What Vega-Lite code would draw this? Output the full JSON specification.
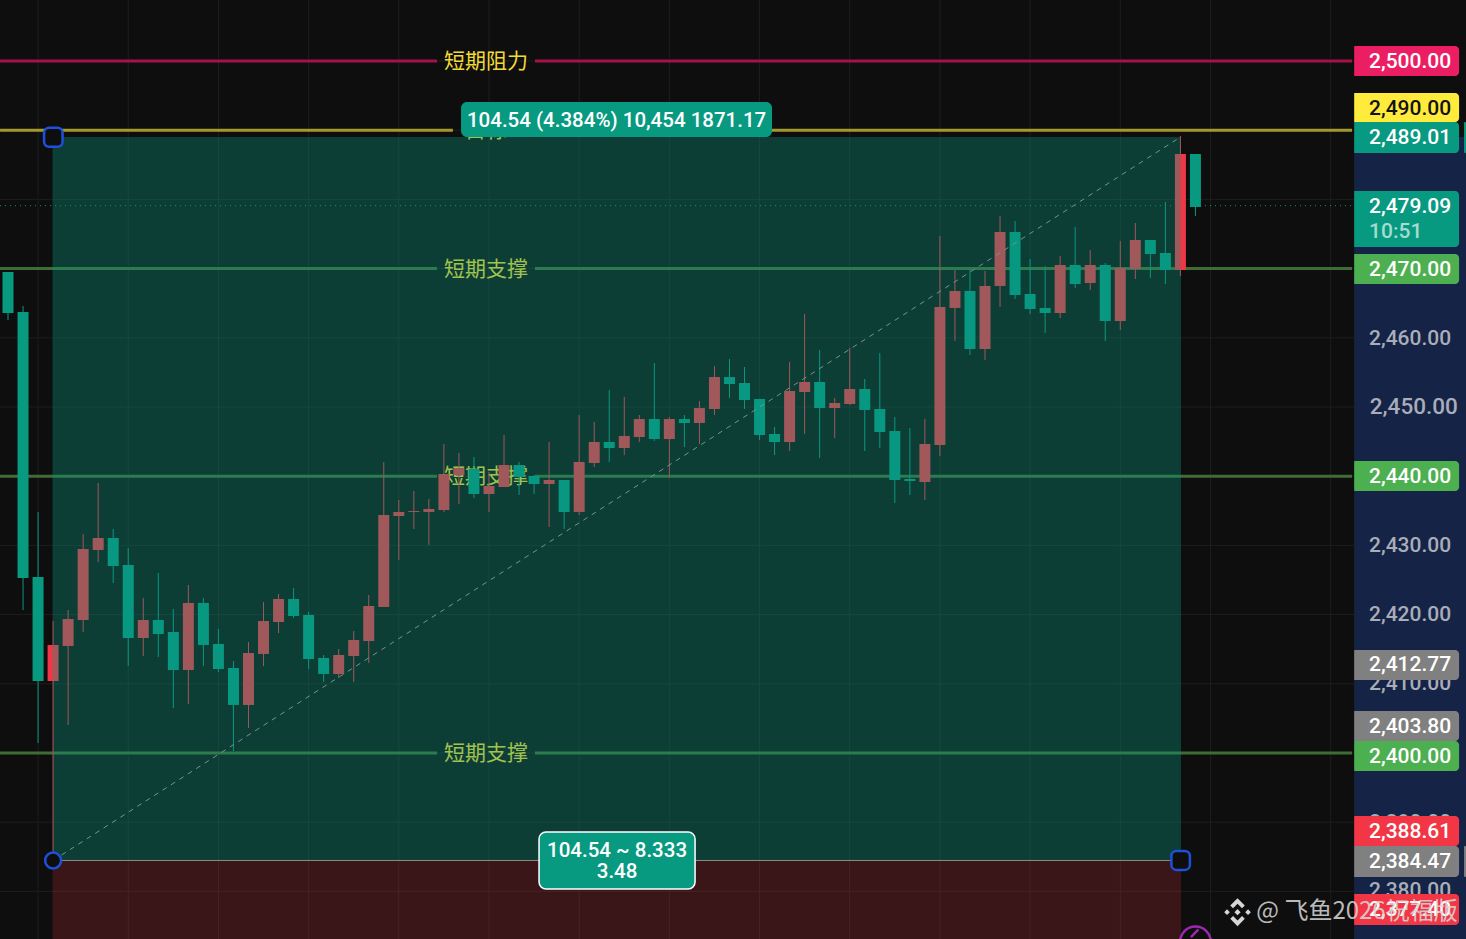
{"$schema":"https://vega.github.io/schema/vega-lite/v6.json","width":1466,"height":939,"padding":0,"autosize":"none","background":"#0e0e0e","config":{"view":{"stroke":null},"scale":{"continuousPadding":0}},
"resolve":{"scale":{"color":"independent","opacity":"independent"}},
"datasets":{
"candles":[
{"i":0,"open":2469.51,"close":2463.58,"high":2469.51,"low":2462.57},{"i":1,"open":2463.73,"close":2425.29,"high":2464.60,"low":2420.66},{"i":2,"open":2425.43,"close":2410.40,"high":2434.83,"low":2401.44},{"i":3,"open":2410.40,"close":2415.61,"high":2419.07,"low":2384.47},{"i":4,"open":2415.46,"close":2419.36,"high":2420.66,"low":2404.05},{"i":5,"open":2419.22,"close":2429.48,"high":2431.65,"low":2417.49},{"i":6,"open":2429.33,"close":2431.07,"high":2439.02,"low":2427.60},{"i":7,"open":2431.07,"close":2427.02,"high":2432.37,"low":2424.57},{"i":8,"open":2427.17,"close":2416.62,"high":2429.62,"low":2412.57},{"i":9,"open":2416.62,"close":2419.22,"high":2422.40,"low":2414.02},
{"i":10,"open":2419.22,"close":2417.20,"high":2426.01,"low":2413.87},{"i":11,"open":2417.49,"close":2411.99,"high":2420.81,"low":2406.50},{"i":12,"open":2411.99,"close":2421.68,"high":2424.28,"low":2407.08},{"i":13,"open":2421.68,"close":2415.61,"high":2422.40,"low":2412.57},{"i":14,"open":2415.75,"close":2412.14,"high":2417.92,"low":2411.70},{"i":15,"open":2412.28,"close":2406.94,"high":2413.29,"low":2400.29},{"i":16,"open":2406.94,"close":2414.45,"high":2416.04,"low":2403.61},{"i":17,"open":2414.31,"close":2419.07,"high":2421.82,"low":2412.57},{"i":18,"open":2418.93,"close":2422.25,"high":2422.98,"low":2417.34},{"i":19,"open":2422.25,"close":2419.80,"high":2423.84,"low":2419.51},
{"i":20,"open":2419.94,"close":2413.58,"high":2420.38,"low":2412.14},{"i":21,"open":2413.73,"close":2411.42,"high":2414.16,"low":2410.26},{"i":22,"open":2411.42,"close":2414.16,"high":2415.03,"low":2410.84},{"i":23,"open":2414.02,"close":2416.33,"high":2417.63,"low":2410.26},{"i":24,"open":2416.18,"close":2421.24,"high":2422.83,"low":2413.00},{"i":25,"open":2421.10,"close":2434.39,"high":2442.05,"low":2421.10},{"i":26,"open":2434.25,"close":2434.83,"high":2436.56,"low":2427.89},{"i":27,"open":2434.83,"close":2434.97,"high":2437.86,"low":2432.37},{"i":28,"open":2434.83,"close":2435.26,"high":2436.70,"low":2430.06},{"i":29,"open":2435.11,"close":2440.32,"high":2444.65,"low":2434.83},
{"i":30,"open":2440.17,"close":2441.18,"high":2443.35,"low":2435.98},{"i":31,"open":2441.04,"close":2437.43,"high":2442.77,"low":2436.85},{"i":32,"open":2437.43,"close":2438.58,"high":2440.61,"low":2434.83},{"i":33,"open":2438.44,"close":2441.62,"high":2445.95,"low":2438.44},{"i":34,"open":2441.62,"close":2439.88,"high":2442.05,"low":2437.28},{"i":35,"open":2440.03,"close":2438.87,"high":2440.17,"low":2437.43},{"i":36,"open":2438.87,"close":2439.45,"high":2444.94,"low":2432.66},{"i":37,"open":2439.45,"close":2434.83,"high":2439.45,"low":2432.37},{"i":38,"open":2434.83,"close":2442.05,"high":2448.84,"low":2434.39},{"i":39,"open":2441.91,"close":2444.94,"high":2447.83,"low":2441.33},
{"i":40,"open":2444.94,"close":2444.07,"high":2452.46,"low":2442.05},{"i":41,"open":2444.07,"close":2445.81,"high":2451.44,"low":2443.06},{"i":42,"open":2445.66,"close":2448.26,"high":2448.84,"low":2444.94},{"i":43,"open":2448.26,"close":2445.37,"high":2456.36,"low":2445.09},{"i":44,"open":2445.37,"close":2448.26,"high":2448.55,"low":2439.74},{"i":45,"open":2448.26,"close":2447.69,"high":2448.84,"low":2444.22},{"i":46,"open":2447.69,"close":2449.85,"high":2450.87,"low":2444.65},{"i":47,"open":2449.71,"close":2454.33,"high":2455.92,"low":2448.84},{"i":48,"open":2454.33,"close":2453.32,"high":2456.94,"low":2451.30},{"i":49,"open":2453.47,"close":2451.01,"high":2455.78,"low":2449.71},
{"i":50,"open":2451.16,"close":2445.95,"high":2451.16,"low":2445.23},{"i":51,"open":2446.10,"close":2444.94,"high":2447.11,"low":2443.06},{"i":52,"open":2444.94,"close":2452.31,"high":2456.50,"low":2443.64},{"i":53,"open":2452.17,"close":2453.61,"high":2463.44,"low":2446.10},{"i":54,"open":2453.61,"close":2449.85,"high":2458.24,"low":2442.63},{"i":55,"open":2449.85,"close":2450.58,"high":2451.30,"low":2445.52},{"i":56,"open":2450.43,"close":2452.60,"high":2458.53,"low":2450.29},{"i":57,"open":2452.60,"close":2449.57,"high":2454.05,"low":2443.64},{"i":58,"open":2449.71,"close":2446.39,"high":2457.80,"low":2444.07},{"i":59,"open":2446.53,"close":2439.45,"high":2448.55,"low":2436.13},
{"i":60,"open":2439.60,"close":2439.31,"high":2446.96,"low":2437.28},{"i":61,"open":2439.16,"close":2444.65,"high":2448.26,"low":2436.56},{"i":62,"open":2444.51,"close":2464.45,"high":2474.71,"low":2442.92},{"i":63,"open":2464.31,"close":2466.76,"high":2469.80,"low":2459.54},{"i":64,"open":2466.76,"close":2458.38,"high":2469.80,"low":2457.51},{"i":65,"open":2458.38,"close":2467.49,"high":2469.65,"low":2456.79},{"i":66,"open":2467.49,"close":2475.29,"high":2477.60,"low":2464.45},{"i":67,"open":2475.29,"close":2466.18,"high":2476.88,"low":2465.61},{"i":68,"open":2466.33,"close":2464.16,"high":2471.39,"low":2463.44},{"i":69,"open":2464.31,"close":2463.58,"high":2470.38,"low":2460.69},
{"i":70,"open":2463.58,"close":2470.52,"high":2471.82,"low":2462.86},{"i":71,"open":2470.52,"close":2467.77,"high":2476.01,"low":2467.20},{"i":72,"open":2467.92,"close":2470.52,"high":2472.69,"low":2466.91},{"i":73,"open":2470.52,"close":2462.43,"high":2470.81,"low":2459.54},{"i":74,"open":2462.43,"close":2470.09,"high":2473.99,"low":2461.13},{"i":75,"open":2469.94,"close":2474.13,"high":2476.59,"low":2468.50},{"i":76,"open":2474.13,"close":2472.11,"high":2474.13,"low":2468.64},{"i":77,"open":2472.25,"close":2469.80,"high":2479.62,"low":2467.77},{"i":78,"open":2469.80,"close":2486.56,"high":2489.16,"low":2468.93},{"i":79,"open":2486.56,"close":2478.90,"high":2486.56,"low":2477.60}],
"hgrid":[{"p":2500},{"p":2490},{"p":2480},{"p":2470},{"p":2460},{"p":2450},{"p":2440},{"p":2430},{"p":2420},{"p":2410},{"p":2400},{"p":2390},{"p":2380}],
"vgrid":[{"t":2},{"t":8},{"t":14},{"t":20},{"t":26},{"t":32},{"t":38},{"t":44},{"t":50},{"t":56},{"t":62},{"t":68},{"t":74},{"t":80},{"t":88}],
"levels":[{"p":2500,"a":-0.53,"b":28.54,"k":"resistance"},{"p":2500,"a":35.06,"b":89.42,"k":"resistance"},{"p":2490,"a":-0.53,"b":29.6,"k":"target"},{"p":2490,"a":33,"b":89.42,"k":"target"},{"p":2470,"a":-0.53,"b":28.54,"k":"support"},{"p":2470,"a":35.06,"b":89.42,"k":"support"},{"p":2440,"a":-0.53,"b":28.54,"k":"support"},{"p":2440,"a":35.06,"b":89.42,"k":"support"},{"p":2400,"a":-0.53,"b":28.54,"k":"support"},{"p":2400,"a":35.06,"b":89.42,"k":"support"}],
"levelText":[{"p":2500,"t":"短期阻力"},{"p":2490,"t":"目标"},{"p":2470,"t":"短期支撑"},{"p":2440,"t":"短期支撑"},{"p":2400,"t":"短期支撑"}],
"axisText":[{"p":2459.97,"t":"2,460.00"},{"p":2430,"t":"2,430.00"},{"p":2420.1,"t":"2,420.00"},{"p":2410.1,"t":"2,410.00"},{"p":2390,"t":"2,390.00"},{"p":2380.2,"t":"2,380.00"}],
"tags":[{"a":2502.17,"b":2497.83,"k":"pink"},{"a":2495.38,"b":2491.19,"k":"yellow"},{"a":2491.19,"b":2486.71,"k":"teal"},{"a":2481.21,"b":2473.12,"k":"teal"},{"a":2472.11,"b":2467.77,"k":"green"},{"a":2442.2,"b":2437.86,"k":"green"},{"a":2414.88,"b":2410.55,"k":"gray"},{"a":2406.07,"b":2401.73,"k":"gray"},{"a":2401.73,"b":2397.4,"k":"green"},{"a":2390.9,"b":2386.56,"k":"red"},{"a":2386.56,"b":2382.08,"k":"gray"},{"a":2379.62,"b":2375.14,"k":"red"}],
"tagText":[{"p":2500,"t":"2,500.00","k":"w"},{"p":2493.28,"t":"2,490.00","k":"b"},{"p":2488.95,"t":"2,489.01","k":"w"},{"p":2479.05,"t":"2,479.09","k":"w"},{"p":2475.43,"t":"10:51","k":"d"},{"p":2469.94,"t":"2,470.00","k":"w"},{"p":2440.03,"t":"2,440.00","k":"w"},{"p":2412.79,"t":"2,412.77","k":"w"},{"p":2403.9,"t":"2,403.80","k":"w"},{"p":2399.6,"t":"2,400.00","k":"w"},{"p":2388.73,"t":"2,388.61","k":"w"},{"p":2384.32,"t":"2,384.47","k":"w"},{"p":2377.45,"t":"2,377.40","k":"w"}]
},
"layer":[
{"data":{"name":"hgrid"},"mark":{"type":"rule","color":"#1e1e1e","strokeWidth":1},"encoding":{"y":{"field":"p","type":"quantitative","scale":{"domain":[2373.12,2508.815],"nice":false,"zero":false},"axis":null}}},
{"data":{"name":"vgrid"},"mark":{"type":"rule","color":"#1e1e1e","strokeWidth":1},"encoding":{"x":{"field":"t","type":"quantitative","scale":{"domain":[-0.5323,97],"nice":false,"zero":false},"axis":null}}},
{"data":{"values":[{"p":2479.09,"a":-0.53,"b":89.42}]},"mark":{"type":"rule","color":"#089981","strokeWidth":1,"strokeDash":[1,4]},"encoding":{"x":{"field":"a","type":"quantitative","scale":{"domain":[-0.5323,97],"nice":false,"zero":false},"axis":null},"x2":{"field":"b"},"y":{"field":"p","type":"quantitative","scale":{"domain":[2373.12,2508.815],"nice":false,"zero":false},"axis":null}}},
{"data":{"name":"levels"},"mark":{"type":"rule","strokeWidth":3},"encoding":{"x":{"field":"a","type":"quantitative","scale":{"domain":[-0.5323,97],"nice":false,"zero":false},"axis":null},"x2":{"field":"b"},"y":{"field":"p","type":"quantitative","scale":{"domain":[2373.12,2508.815],"nice":false,"zero":false},"axis":null},"color":{"field":"k","type":"nominal","legend":null,"scale":{"domain":["resistance","target","support"],"range":["#a5124a","#a39a2e","#3f6d35"]}}}},
{"data":{"name":"levelText"},"mark":{"type":"text","font":"Noto Sans CJK SC","fontSize":21,"dy":1,"color":"#f2da36","align":"center","baseline":"middle"},"encoding":{"x":{"datum":31.8,"type":"quantitative","scale":{"domain":[-0.5323,97],"nice":false,"zero":false},"axis":null},"y":{"field":"p","type":"quantitative","scale":{"domain":[2373.12,2508.815],"nice":false,"zero":false},"axis":null},"text":{"field":"t"}}},
{"data":{"name":"candles"},"mark":{"type":"rule","strokeWidth":1},"encoding":{"x":{"field":"i","type":"quantitative","scale":{"domain":[-0.5323,97],"nice":false,"zero":false},"axis":null},"y":{"field":"low","type":"quantitative","scale":{"domain":[2373.12,2508.815],"nice":false,"zero":false},"axis":null},"y2":{"field":"high"},"color":{"condition":{"test":"datum.close>datum.open","value":"#f23645"},"value":"#089981"}}},
{"data":{"name":"candles"},"mark":{"type":"bar","size":11},"encoding":{"x":{"field":"i","type":"quantitative","scale":{"domain":[-0.5323,97],"nice":false,"zero":false,"padding":0},"axis":null},"y":{"field":"open","type":"quantitative","scale":{"domain":[2373.12,2508.815],"nice":false,"zero":false},"axis":null},"y2":{"field":"close"},"color":{"condition":{"test":"datum.close>datum.open","value":"#f23645"},"value":"#089981"}}},
{"data":{"values":[{"a":2.96,"b":78.04,"top":2489.01,"bot":2384.47,"k":"profit"},{"a":2.96,"b":78.04,"top":2384.47,"bot":2373.12,"k":"loss"}]},"mark":{"type":"rect"},"encoding":{"x":{"field":"a","type":"quantitative","scale":{"domain":[-0.5323,97],"nice":false,"zero":false},"axis":null},"x2":{"field":"b"},"y":{"field":"top","type":"quantitative","scale":{"domain":[2373.12,2508.815],"nice":false,"zero":false},"axis":null},"y2":{"field":"bot"},"color":{"field":"k","type":"nominal","legend":null,"scale":{"domain":["profit","loss"],"range":["#089981","#f23645"]}},"opacity":{"field":"k","type":"nominal","legend":null,"scale":{"domain":["profit","loss"],"range":[0.35,0.2]}}}},
{"data":{"values":[{"a":3,"b":78,"p":2384.47}]},"mark":{"type":"rule","color":"#8e8e8e","strokeWidth":1},"encoding":{"x":{"field":"a","type":"quantitative","scale":{"domain":[-0.5323,97],"nice":false,"zero":false},"axis":null},"x2":{"field":"b"},"y":{"field":"p","type":"quantitative","scale":{"domain":[2373.12,2508.815],"nice":false,"zero":false},"axis":null}}},
{"data":{"values":[{"a":3,"b":78,"p":2384.47,"q":2489.01}]},"mark":{"type":"rule","color":"#7f8f8d","strokeWidth":1,"strokeDash":[5,5]},"encoding":{"x":{"field":"a","type":"quantitative","scale":{"domain":[-0.5323,97],"nice":false,"zero":false},"axis":null},"x2":{"field":"b"},"y":{"field":"p","type":"quantitative","scale":{"domain":[2373.12,2508.815],"nice":false,"zero":false},"axis":null},"y2":{"field":"q"}}},
{"data":{"values":[{"top":2508.815,"bot":2489.01,"k":"blank"},{"top":2489.01,"bot":2373.12,"k":"range"}]},"mark":{"type":"rect"},"encoding":{"x":{"datum":89.56,"type":"quantitative","scale":{"domain":[-0.5323,97],"nice":false,"zero":false},"axis":null},"x2":{"datum":97},"y":{"field":"top","type":"quantitative","scale":{"domain":[2373.12,2508.815],"nice":false,"zero":false},"axis":null},"y2":{"field":"bot"},"color":{"field":"k","type":"nominal","legend":null,"scale":{"domain":["blank","range"],"range":["#0e0e0e","#152347"]}}}},
{"data":{"name":"axisText"},"mark":{"type":"text","font":"Roboto","fontWeight":500,"fontSize":21,"dy":1,"color":"#a9adb8","align":"left","baseline":"middle"},"encoding":{"x":{"datum":90.55,"type":"quantitative","scale":{"domain":[-0.5323,97],"nice":false,"zero":false},"axis":null},"y":{"field":"p","type":"quantitative","scale":{"domain":[2373.12,2508.815],"nice":false,"zero":false},"axis":null},"text":{"field":"t"}}},
{"data":{"values":[{"p":2450.2,"t":"2,450.00"}]},"mark":{"type":"text","font":"Roboto","fontWeight":500,"fontSize":22.5,"dy":1,"color":"#a9adb8","align":"left","baseline":"middle"},"encoding":{"x":{"datum":90.6,"type":"quantitative","scale":{"domain":[-0.5323,97],"nice":false,"zero":false},"axis":null},"y":{"field":"p","type":"quantitative","scale":{"domain":[2373.12,2508.815],"nice":false,"zero":false},"axis":null},"text":{"field":"t"}}},
{"data":{"values":[{"a":2491.19,"b":2486.71,"k":"teal"},{"a":2386.56,"b":2382.08,"k":"gray"}]},"mark":{"type":"rect","cornerRadius":3},"encoding":{"x":{"datum":96.87,"type":"quantitative","scale":{"domain":[-0.5323,97],"nice":false,"zero":false},"axis":null},"x2":{"datum":97},"y":{"field":"a","type":"quantitative","scale":{"domain":[2373.12,2508.815],"nice":false,"zero":false},"axis":null},"y2":{"field":"b"},"color":{"field":"k","type":"nominal","legend":null,"scale":{"domain":["teal","gray"],"range":["#089981","#808080"]}}}},
{"data":{"name":"tags"},"mark":{"type":"rect","cornerRadiusTopRight":4,"cornerRadiusBottomRight":4},"encoding":{"x":{"datum":89.56,"type":"quantitative","scale":{"domain":[-0.5323,97],"nice":false,"zero":false},"axis":null},"x2":{"datum":96.54},"y":{"field":"a","type":"quantitative","scale":{"domain":[2373.12,2508.815],"nice":false,"zero":false},"axis":null},"y2":{"field":"b"},"color":{"field":"k","type":"nominal","legend":null,"scale":{"domain":["pink","yellow","teal","green","gray","red"],"range":["#ec1e63","#ffeb3b","#089981","#4caf50","#808080","#f23645"]}}}},
{"data":{"name":"tagText"},"mark":{"type":"text","font":"Roboto","fontWeight":500,"fontSize":21,"dy":1,"align":"left","baseline":"middle"},"encoding":{"x":{"datum":90.55,"type":"quantitative","scale":{"domain":[-0.5323,97],"nice":false,"zero":false},"axis":null},"y":{"field":"p","type":"quantitative","scale":{"domain":[2373.12,2508.815],"nice":false,"zero":false},"axis":null},"text":{"field":"t"},"color":{"field":"k","type":"nominal","legend":null,"scale":{"domain":["w","b","d"],"range":["#ffffff","#131313","#a5dbd0"]}}}},
{"data":{"values":[{"a":30.14,"b":50.83,"top":2494.08,"bot":2489.0}]},"mark":{"type":"rect","color":"#089981","cornerRadius":6},"encoding":{"x":{"field":"a","type":"quantitative","scale":{"domain":[-0.5323,97],"nice":false,"zero":false},"axis":null},"x2":{"field":"b"},"y":{"field":"top","type":"quantitative","scale":{"domain":[2373.12,2508.815],"nice":false,"zero":false},"axis":null},"y2":{"field":"bot"}}},
{"data":{"values":[{"a":35.33,"b":45.71,"top":2388.58,"bot":2380.35}]},"mark":{"type":"rect","color":"#089981","cornerRadius":7,"stroke":"#ffffff","strokeWidth":1.5},"encoding":{"x":{"field":"a","type":"quantitative","scale":{"domain":[-0.5323,97],"nice":false,"zero":false},"axis":null},"x2":{"field":"b"},"y":{"field":"top","type":"quantitative","scale":{"domain":[2373.12,2508.815],"nice":false,"zero":false},"axis":null},"y2":{"field":"bot"}}},
{"data":{"values":[{"x":40.49,"p":2491.47,"t":"104.54 (4.384%) 10,454 1871.17"},{"x":40.52,"p":2385.98,"t":"104.54 ~ 8.333"},{"x":40.52,"p":2382.95,"t":"3.48"}]},"mark":{"type":"text","font":"Roboto","fontWeight":500,"fontSize":20.5,"dy":1,"color":"#ffffff","align":"center","baseline":"middle"},"encoding":{"x":{"field":"x","type":"quantitative","scale":{"domain":[-0.5323,97],"nice":false,"zero":false},"axis":null},"y":{"field":"p","type":"quantitative","scale":{"domain":[2373.12,2508.815],"nice":false,"zero":false},"axis":null},"text":{"field":"t"}}},
{"data":{"values":[{"a":2.4,"b":3.63,"top":2490.35,"bot":2487.6},{"a":77.4,"b":78.63,"top":2385.85,"bot":2383.1}]},"mark":{"type":"rect","fill":"#0e0e0e","stroke":"#1e50dc","strokeWidth":2.5,"cornerRadius":5},"encoding":{"x":{"field":"a","type":"quantitative","scale":{"domain":[-0.5323,97],"nice":false,"zero":false},"axis":null},"x2":{"field":"b"},"y":{"field":"top","type":"quantitative","scale":{"domain":[2373.12,2508.815],"nice":false,"zero":false},"axis":null},"y2":{"field":"bot"}}},
{"data":{"values":[{"x":3,"p":2384.47}]},"mark":{"type":"point","shape":"circle","size":254,"filled":false,"fill":"#0e0e0e","stroke":"#1e50dc","strokeWidth":2.5,"opacity":1},"encoding":{"x":{"field":"x","type":"quantitative","scale":{"domain":[-0.5323,97],"nice":false,"zero":false},"axis":null},"y":{"field":"p","type":"quantitative","scale":{"domain":[2373.12,2508.815],"nice":false,"zero":false},"axis":null}}},
{"data":{"values":[{"x":79,"p":2372.69}]},"mark":{"type":"point","shape":"circle","size":962,"filled":false,"stroke":"#9c27b0","strokeWidth":2.5,"opacity":1},"encoding":{"x":{"field":"x","type":"quantitative","scale":{"domain":[-0.5323,97],"nice":false,"zero":false},"axis":null},"y":{"field":"p","type":"quantitative","scale":{"domain":[2373.12,2508.815],"nice":false,"zero":false},"axis":null}}},
{"data":{"values":[{"a":78.7,"b":79.2,"p":2373.4,"q":2374.5}]},"mark":{"type":"rule","color":"#9c27b0","strokeWidth":2.5},"encoding":{"x":{"field":"a","type":"quantitative","scale":{"domain":[-0.5323,97],"nice":false,"zero":false},"axis":null},"x2":{"field":"b"},"y":{"field":"p","type":"quantitative","scale":{"domain":[2373.12,2508.815],"nice":false,"zero":false},"axis":null},"y2":{"field":"q"}}},
{"data":{"values":[{"x":81.8,"p":2377.0}]},"mark":{"type":"point","filled":true,"size":784,"color":"#d6d6d6","opacity":1,"shape":"M0,-.22 L.22,0 L0,.22 L-.22,0 Z M-.75,-.2 L-.55,0 L-.75,.2 L-.95,0 Z M.75,-.2 L.95,0 L.75,.2 L.55,0 Z M0,-1 L.52,-.48 L.32,-.28 L0,-.6 L-.32,-.28 L-.52,-.48 Z M0,1 L.52,.48 L.32,.28 L0,.6 L-.32,.28 L-.52,.48 Z"},"encoding":{"x":{"field":"x","type":"quantitative","scale":{"domain":[-0.5323,97],"nice":false,"zero":false},"axis":null},"y":{"field":"p","type":"quantitative","scale":{"domain":[2373.12,2508.815],"nice":false,"zero":false},"axis":null}}},
{"data":{"values":[{"x":83.05,"p":2377.0,"t":"@ 飞鱼2026祝福版"}]},"mark":{"type":"text","font":"Noto Sans CJK SC","fontSize":24,"color":"#d8d8d8","opacity":0.85,"align":"left","baseline":"middle"},"encoding":{"x":{"field":"x","type":"quantitative","scale":{"domain":[-0.5323,97],"nice":false,"zero":false},"axis":null},"y":{"field":"p","type":"quantitative","scale":{"domain":[2373.12,2508.815],"nice":false,"zero":false},"axis":null},"text":{"field":"t"}}}
]}
